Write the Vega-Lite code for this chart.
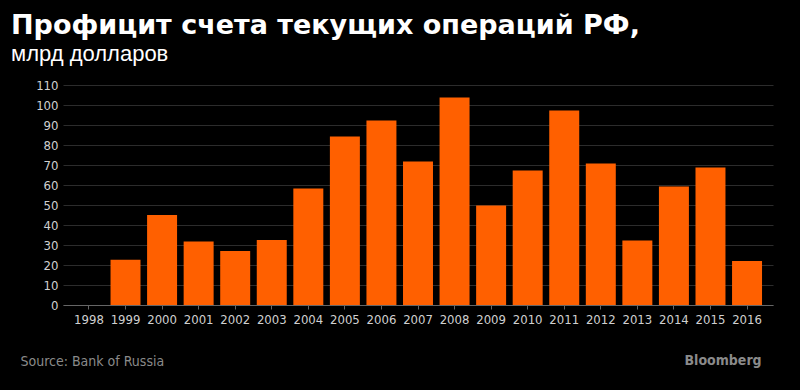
{
  "$schema": "https://vega.github.io/schema/vega-lite/v6.json",
  "autosize": "none",
  "width": 710,
  "height": 220,
  "padding": {"left": 63, "top": 85, "right": 27, "bottom": 85},
  "background": "#000000",
  "config": {
    "view": {"stroke": null},
    "font": "Liberation Sans"
  },
  "title": {
    "text": "Профицит счета текущих операций РФ,",
    "subtitle": "млрд долларов",
    "anchor": "start",
    "frame": "group",
    "dx": -52,
    "offset": 13,
    "font": "DejaVu Sans",
    "fontSize": 27,
    "fontWeight": "bold",
    "color": "#ffffff",
    "subtitleFont": "Liberation Sans",
    "subtitleFontSize": 22,
    "subtitleColor": "#ffffff",
    "subtitlePadding": 4
  },
  "data": {
    "values": [
      {"year": "1998", "value": 0},
      {"year": "1999", "value": 22.6},
      {"year": "2000", "value": 45},
      {"year": "2001", "value": 31.7},
      {"year": "2002", "value": 27},
      {"year": "2003", "value": 32.5},
      {"year": "2004", "value": 58.3},
      {"year": "2005", "value": 84.2},
      {"year": "2006", "value": 92.2},
      {"year": "2007", "value": 71.8},
      {"year": "2008", "value": 103.8},
      {"year": "2009", "value": 49.8},
      {"year": "2010", "value": 67.3},
      {"year": "2011", "value": 97.2},
      {"year": "2012", "value": 70.8},
      {"year": "2013", "value": 32.3},
      {"year": "2014", "value": 59.3},
      {"year": "2015", "value": 68.8},
      {"year": "2016", "value": 22}
    ]
  },
  "mark": {"type": "bar", "color": "#ff6000"},
  "encoding": {
    "x": {
      "field": "year",
      "type": "ordinal",
      "scale": {"paddingInner": 0.18, "paddingOuter": 0.3},
      "axis": {
        "title": "Source: Bank of Russia",
        "titleColor": "#8a8a8a",
        "titleFont": "DejaVu Sans Condensed, Liberation Sans Narrow, sans-serif",
        "titleFontSize": 14,
        "titleFontWeight": "normal",
        "titleAlign": "left",
        "titleAnchor": "start",
        "titleBaseline": "middle",
        "titleX": -43,
        "titleY": 56,
        "labelAngle": 0,
        "labelColor": "#d0d0d0",
        "labelFont": "DejaVu Sans Condensed, Liberation Sans Narrow, sans-serif",
        "labelFontSize": 13,
        "labelPadding": 4,
        "domainColor": "#666666",
        "tickColor": "#666666",
        "tickSize": 4,
        "grid": false
      }
    },
    "y": {
      "field": "value",
      "type": "quantitative",
      "scale": {"domain": [0, 110], "nice": false},
      "axis": {
        "values": [0, 10, 20, 30, 40, 50, 60, 70, 80, 90, 100, 110],
        "title": "Bloomberg",
        "titleAngle": 0,
        "titleColor": "#8a8a8a",
        "titleFont": "DejaVu Sans Condensed, Liberation Sans Narrow, sans-serif",
        "titleFontSize": 14,
        "titleFontWeight": "bold",
        "titleAlign": "left",
        "titleBaseline": "middle",
        "titleX": 621,
        "titleY": 275,
        "labelColor": "#d0d0d0",
        "labelFont": "DejaVu Sans Condensed, Liberation Sans Narrow, sans-serif",
        "labelFontSize": 13,
        "labelPadding": 5,
        "domain": false,
        "ticks": false,
        "grid": true,
        "gridColor": "#2c2c2c",
        "gridWidth": 1
      }
    }
  }
}
